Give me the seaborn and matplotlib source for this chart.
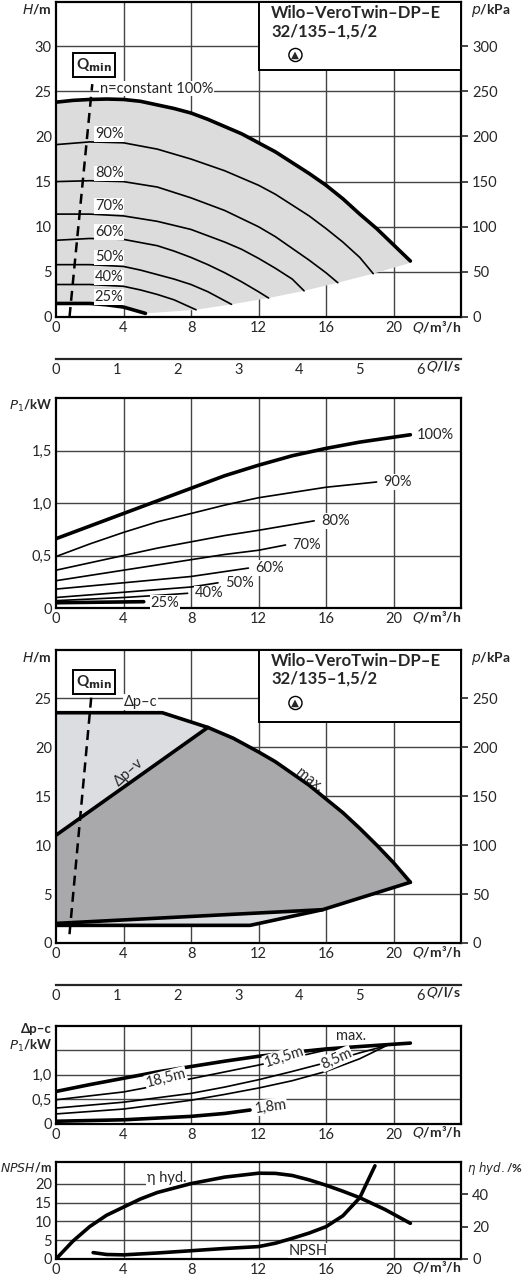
import matplotlib
matplotlib.use("Agg")
import matplotlib.pyplot as plt
import seaborn as sns
import numpy as np

sns.set_style("white")
plt.rcParams['font.family'] = ['Lato', 'DejaVu Sans']

# ---------------- data ----------------
q_ticks = [0, 4, 8, 12, 16, 20]
qls_ticks = [0, 1, 2, 3, 4, 5, 6]

# Panel 1: H(Q) at speed levels
h_speeds = ["100%", "90%", "80%", "70%", "60%", "50%", "40%", "25%"]
h_q = {
    "100%": [0, 1, 2, 3, 4, 5, 6, 7, 8, 9, 10, 11, 12, 13, 14, 15, 16, 17, 18, 19, 20, 21],
    "90%": [0, 2, 4, 6, 8, 10, 12, 13, 14, 15, 16, 17, 18, 18.8],
    "80%": [0, 2, 4, 6, 8, 10, 11, 12, 13, 14, 15, 16, 16.7],
    "70%": [0, 2, 4, 6, 8, 9, 10, 11, 12, 13, 14, 14.7],
    "60%": [0, 2, 4, 6, 7, 8, 9, 10, 11, 12, 12.6],
    "50%": [0, 2, 4, 5, 6, 7, 8, 9, 10.4],
    "40%": [0, 2, 4, 5, 6, 7, 8.3],
    "25%": [0, 2, 3, 4, 5.3],
}
h_h = {
    "100%": [23.8, 24.0, 24.1, 24.15, 24.1, 23.9, 23.5, 23.1, 22.6, 21.9, 21.1, 20.3, 19.3, 18.3, 17.1, 15.9, 14.6, 13.1, 11.4, 9.8, 8.0, 6.2],
    "90%": [19.1, 19.4, 19.3, 18.6, 17.5, 16.2, 14.6, 13.6, 12.4, 11.2, 9.8, 8.3, 6.6, 4.8],
    "80%": [15.0, 15.1, 15.0, 14.4, 13.2, 11.8, 10.9, 10.0, 8.9, 7.6, 6.3, 4.9, 3.8],
    "70%": [11.4, 11.4, 11.2, 10.6, 9.7, 9.0, 8.3, 7.5, 6.5, 5.4, 4.2, 2.9],
    "60%": [8.5, 8.7, 8.6, 7.9, 7.3, 6.6, 5.8, 4.9, 3.9, 2.8, 2.1],
    "50%": [5.8, 5.8, 5.6, 5.2, 4.7, 4.2, 3.6, 2.8, 1.4],
    "40%": [3.6, 3.6, 3.4, 3.0, 2.5, 1.9, 0.8],
    "25%": [1.5, 1.5, 1.35, 1.1, 0.4],
}
h_lbl_y = {"100%": 25.3, "90%": 20.3, "80%": 15.9, "70%": 12.3, "60%": 9.4, "50%": 6.6, "40%": 4.4, "25%": 2.2}
lower_bound_q = [21, 18.8, 16.7, 14.7, 12.6, 10.4, 8.3, 5.3]
lower_bound_h = [6.0, 4.8, 3.8, 2.9, 2.1, 1.4, 0.8, 0.4]
qmin_q = [0.8, 2.15]
qmin_h = [0.0, 25.8]

# Panel 2: P1(Q)
p_q = {
    "100%": [0, 2, 4, 6, 8, 10, 12, 14, 16, 18, 21],
    "90%": [0, 2, 4, 6, 8, 10, 12, 14, 16, 19],
    "80%": [0, 2, 4, 6, 8, 10, 12, 15.3],
    "70%": [0, 2, 4, 6, 8, 10, 12, 13.6],
    "60%": [0, 2, 4, 6, 8, 11.4],
    "50%": [0, 2, 4, 6, 8, 9.6],
    "40%": [0, 2, 4, 6, 7.8],
    "25%": [0, 2.5, 5.2],
}
p_p = {
    "100%": [0.66, 0.78, 0.90, 1.02, 1.14, 1.26, 1.36, 1.45, 1.52, 1.58, 1.65],
    "90%": [0.49, 0.61, 0.72, 0.82, 0.90, 0.98, 1.05, 1.10, 1.15, 1.20],
    "80%": [0.36, 0.43, 0.50, 0.57, 0.63, 0.69, 0.74, 0.83],
    "70%": [0.26, 0.31, 0.36, 0.41, 0.46, 0.51, 0.55, 0.60],
    "60%": [0.18, 0.21, 0.24, 0.27, 0.30, 0.38],
    "50%": [0.10, 0.125, 0.15, 0.175, 0.20, 0.24],
    "40%": [0.07, 0.085, 0.10, 0.12, 0.14],
    "25%": [0.05, 0.055, 0.06],
}
p_lbl = {"100%": (21.4, 1.65), "90%": (19.4, 1.2), "80%": (15.7, 0.83), "70%": (14.0, 0.6),
         "60%": (11.8, 0.38), "50%": (10.0, 0.24), "40%": (8.2, 0.14), "25%": (5.6, 0.05)}

# Panel 3: control modes
max_q = [0, 6.3, 9.0, 10.5, 12, 13, 14, 15, 16, 17, 18, 19, 20, 21]
max_h = [23.5, 23.5, 22.0, 20.9, 19.5, 18.5, 17.3, 16.1, 14.7, 13.3, 11.7, 10.0, 8.2, 6.2]
dpv_q = [0, 9.0]
dpv_h = [11.0, 22.0]
low1_q = [0, 15.8, 21]
low1_h = [2.0, 3.4, 6.2]
low2_q = [0, 11.5, 15.8]
low2_h = [1.8, 1.8, 3.4]
qmin2_q = [0.8, 2.1]
qmin2_h = [0.9, 25.3]

# Panel 4: P1 for Δp-c set points
c_names = ["max.", "18,5m", "13,5m", "8,5m", "1,8m"]
c_q = {
    "max.": [0, 2, 4, 6, 8, 10, 12, 14, 16, 18, 21],
    "18,5m": [0, 4, 6, 8, 10, 12, 14, 16.3],
    "13,5m": [0, 4, 8, 10, 12, 14, 16, 18, 19.6],
    "8,5m": [0, 4, 8, 10, 12, 14, 16, 18, 19.6],
    "1,8m": [0, 4, 8, 10, 11.5],
}
c_p = {
    "max.": [0.66, 0.80, 0.93, 1.06, 1.17, 1.28, 1.38, 1.46, 1.53, 1.58, 1.65],
    "18,5m": [0.49, 0.65, 0.78, 0.92, 1.06, 1.20, 1.35, 1.53],
    "13,5m": [0.32, 0.44, 0.62, 0.75, 0.90, 1.07, 1.25, 1.45, 1.60],
    "8,5m": [0.20, 0.30, 0.48, 0.60, 0.73, 0.88, 1.07, 1.33, 1.60],
    "1,8m": [0.05, 0.08, 0.15, 0.21, 0.28],
}

# Panel 5: NPSH and efficiency
npsh_q = [2.2, 3, 4, 6, 8, 10, 12, 13, 14, 15, 16, 17, 18, 18.9]
npsh_v = [1.7, 1.2, 1.1, 1.6, 2.2, 2.8, 3.3, 4.2, 5.5, 6.9, 8.6, 11.5, 16.3, 24.8]
eta_q = [0, 1, 2, 3, 4, 5, 6, 8, 10, 12, 13, 14, 15, 16, 17, 18, 19.5, 21]
eta_v = [0, 11, 20, 27, 32, 37, 41, 46.5, 50.5, 52.9, 52.8, 51.5, 48.8, 45.5, 41.8, 37.8, 30.5, 22]

# ---------------- layout ----------------
fig = plt.figure(figsize=(5.25, 12.8), dpi=100)
L, W = 56 / 525, 405 / 525
def rect(top, bot):
    return [L, 1 - bot / 1280, W, (bot - top) / 1280]

FS = 10.5
LFS = 10
GRID = dict(color="#444444", lw=1.0, zorder=1)

def style(ax, ylim, yticks, ylabels, right=None):
    ax.set_xlim(0, 24)
    ax.set_ylim(*ylim)
    ax.set_xticks(q_ticks)
    ax.set_xticklabels([str(t) for t in q_ticks], fontsize=FS)
    ax.set_yticks(yticks)
    ax.set_yticklabels(ylabels, fontsize=FS)
    ax.tick_params(axis="both", length=0, pad=3)
    for t in q_ticks[1:]:
        ax.axvline(t, **GRID)
    for t in yticks[1:]:
        ax.axhline(t, **GRID)
    for s in ax.spines.values():
        s.set_linewidth(1.6)
        s.set_color("black")
    ax.text(1.0, -0.005, r"$\mathbf{\mathit{Q}}$/m³/h", transform=ax.transAxes, ha="right", va="top",
            fontsize=LFS, fontweight="bold")
    if right is not None:
        ax2 = ax.twinx()
        ax2.set_ylim(ylim[0] * right[0], ylim[1] * right[0])
        ax2.set_yticks(right[1])
        ax2.set_yticklabels([str(v) for v in right[1]], fontsize=FS)
        ax2.tick_params(axis="y", length=5, width=1.2, pad=3, direction="out")
        for s in ax2.spines.values():
            s.set_visible(False)
        return ax2

def curve(ax, x, y, lw=1.2, ls="-"):
    sns.lineplot(x=x, y=y, ax=ax, color="black", lw=lw, ls=ls, estimator=None, sort=False, zorder=4)

def qls_axis(y):
    ax = fig.add_axes([L, 1 - y / 1280, W, 0.0001])
    ax.set_xlim(0, 24 / 3.6)
    for s in ["left", "right", "top"]:
        ax.spines[s].set_visible(False)
    ax.spines["bottom"].set_linewidth(1.6)
    ax.set_yticks([])
    ax.set_xticks(qls_ticks)
    ax.set_xticklabels([str(t) for t in qls_ticks], fontsize=FS)
    ax.tick_params(axis="x", direction="in", length=5, width=1.2, pad=3)
    ax.text(1.0, -0.5, r"$\mathbf{\mathit{Q}}$/l/s", transform=ax.transAxes, ha="right", va="top",
            fontsize=LFS, fontweight="bold")

def title_box(ax, top_px, bot_px, axtop, axbot):
    x0 = (259 - 56) / 405
    h = (axbot - axtop)
    y0 = 1 - (bot_px - axtop) / h
    ax.add_patch(plt.Rectangle((x0, y0), 1 - x0, 1 - y0, transform=ax.transAxes, fc="white",
                               ec="black", lw=1.4, zorder=6))
    ax.text(x0 + 0.03, 0.99, "Wilo–VeroTwin–DP–E\n32/135–1,5/2", transform=ax.transAxes, ha="left", va="top",
            fontsize=12, fontweight="bold", zorder=7, linespacing=1.15)
    ax.text(x0 + 0.09, 1 - (top_px + 53 - axtop) / h, "▲", transform=ax.transAxes, ha="center", va="center",
            fontsize=7.5, zorder=7, family=["DejaVu Sans"],
            bbox=dict(boxstyle="circle,pad=0.15", fc="white", ec="black", lw=1))

def qmin_box(ax, q, h):
    ax.text(q, h, r"Q$_{\mathbf{min}}$", ha="center", va="center", fontsize=11, fontweight="bold", zorder=7,
            bbox=dict(boxstyle="square,pad=0.2", fc="white", ec="black", lw=1.4))

def ylab(ax, txt, y=1.0, fs=LFS):
    ax.text(-0.01, y, txt, transform=ax.transAxes, ha="right", va="top", fontsize=fs, fontweight="bold")

def rlab(ax, txt, fs=LFS):
    ax.text(1.025, 1.0, txt, transform=ax.transAxes, ha="left", va="top", fontsize=fs, fontweight="bold")

WB = dict(fc="white", ec="none", pad=0.5)

# ---- Panel 1 ----
ax1 = fig.add_axes(rect(2, 317))
ylim1 = (0, 34.9)
style(ax1, ylim1, [0, 5, 10, 15, 20, 25, 30], ["0", "5", "10", "15", "20", "25", "30"],
      right=(10, [0, 50, 100, 150, 200, 250, 300]))
poly_q = h_q["100%"] + lower_bound_q + h_q["25%"][::-1]
poly_h = h_h["100%"] + lower_bound_h + h_h["25%"][::-1]
ax1.fill(poly_q, poly_h, color="#dcdcdc", lw=0, zorder=2)
for s in h_speeds:
    lw = 2.6 if s in ("100%", "25%") else 1.2
    curve(ax1, h_q[s], h_h[s], lw=lw)
for s in h_speeds[1:]:
    ax1.text(2.3, h_lbl_y[s], s, fontsize=FS, ha="left", va="center", zorder=5, bbox=WB)
ax1.text(2.6, 25.3, "n=constant 100%", fontsize=FS, ha="left", va="center", zorder=5, bbox=WB)
curve(ax1, qmin_q, qmin_h, lw=1.8, ls=(0, (4, 2.5)))
qmin_box(ax1, 2.25, 27.9)
title_box(ax1, 2, 70, 2, 317)
ylab(ax1, r"$\mathbf{\mathit{H}}$/m")
rlab(ax1, r"$\mathbf{\mathit{p}}$/kPa")
qls_axis(359)

# ---- Panel 2 ----
ax2 = fig.add_axes(rect(398, 608))
style(ax2, (0, 2.0), [0, 0.5, 1.0, 1.5], ["0", "0,5", "1,0", "1,5"])
for s in h_speeds:
    lw = 2.6 if s in ("100%", "25%") else 1.2
    curve(ax2, p_q[s], p_p[s], lw=lw)
    ax2.text(p_lbl[s][0], p_lbl[s][1], s, fontsize=FS, ha="left", va="center", zorder=5, bbox=WB)
ylab(ax2, r"$\mathbf{\mathit{P}}_{\mathbf{\mathit{1}}}$/kW", fs=9.5)

# ---- Panel 3 ----
ax3 = fig.add_axes(rect(650, 943))
ylim3 = (0, 29.9)
style(ax3, ylim3, [0, 5, 10, 15, 20, 25], ["0", "5", "10", "15", "20", "25"],
      right=(10, [0, 50, 100, 150, 200, 250]))
light_q = low2_q + low1_q[2:] + max_q[::-1]
light_h = low2_h + low1_h[2:] + max_h[::-1]
ax3.fill(light_q, light_h, color="#dcdde0", lw=0, zorder=2)
i9 = max_q.index(9.0)
dark_q = dpv_q + max_q[i9 + 1:] + low1_q[::-1][1:]
dark_h = dpv_h + max_h[i9 + 1:] + low1_h[::-1][1:]
ax3.fill(dark_q, dark_h, color="#a9a9ab", lw=0, zorder=2)
curve(ax3, max_q, max_h, lw=2.6)
curve(ax3, dpv_q, dpv_h, lw=2.6)
curve(ax3, low1_q, low1_h, lw=2.6)
curve(ax3, low2_q, low2_h, lw=2.6)
curve(ax3, qmin2_q, qmin2_h, lw=1.8, ls=(0, (4, 2.5)))
qmin_box(ax3, 2.25, 26.6)
ax3.text(4.0, 24.6, "Δp–c", fontsize=FS, ha="left", va="center", zorder=5, bbox=WB)
ax3.text(4.3, 17.4, "Δp–v", fontsize=FS, ha="center", va="center", rotation=42, zorder=5)
ax3.text(15.0, 16.6, "max.", fontsize=FS, ha="center", va="center", rotation=-38, zorder=5)
title_box(ax3, 650, 722, 650, 943)
ylab(ax3, r"$\mathbf{\mathit{H}}$/m")
rlab(ax3, r"$\mathbf{\mathit{p}}$/kPa")
qls_axis(985)

# ---- Panel 4 ----
ax4 = fig.add_axes(rect(1026, 1123.7))
style(ax4, (0, 2.0), [0, 0.5, 1.0, 1.5], ["0", "0,5", "1,0", ""])
for n in c_names:
    lw = 2.6 if n in ("max.", "1,8m") else 1.2
    curve(ax4, c_q[n], c_p[n], lw=lw)
ax4.text(17.5, 1.8, "max.", fontsize=FS, ha="center", va="center", zorder=5)
ax4.text(6.5, 0.93, "18,5m", fontsize=FS, ha="center", va="center", rotation=14, zorder=5, bbox=WB)
ax4.text(13.5, 1.36, "13,5m", fontsize=FS, ha="center", va="center", rotation=18, zorder=5, bbox=WB)
ax4.text(16.6, 1.33, "8,5m", fontsize=FS, ha="center", va="center", rotation=24, zorder=5, bbox=WB)
ax4.text(11.7, 0.35, "1,8m", fontsize=FS, ha="left", va="center", rotation=8, zorder=5, bbox=WB)
ax4.text(-0.01, 1.03, "Δp–c\n" + r"$\mathbf{\mathit{P}}_{\mathbf{\mathit{1}}}$/kW", transform=ax4.transAxes,
         ha="right", va="top", fontsize=9.5, fontweight="bold", multialignment="right")

# ---- Panel 5 ----
ax5 = fig.add_axes(rect(1161.7, 1259))
style(ax5, (0, 25.9), [0, 5, 10, 15, 20], ["0", "5", "10", "15", "20"])
ax5b = ax5.twinx()
ax5b.set_ylim(0, 60)
ax5b.set_yticks([0, 20, 40])
ax5b.set_yticklabels(["0", "20", "40"], fontsize=FS)
ax5b.tick_params(axis="y", length=5, width=1.2, pad=3, direction="out")
for s in ax5b.spines.values():
    s.set_visible(False)
curve(ax5, npsh_q, npsh_v, lw=2.6)
sns.lineplot(x=eta_q, y=eta_v, ax=ax5b, color="black", lw=2.6, estimator=None, sort=False)
ax5.text(5.4, 21.5, "η hyd.", fontsize=FS, ha="left", va="center", zorder=5, bbox=WB)
ax5.text(13.8, 2.2, "NPSH", fontsize=FS, ha="left", va="center", zorder=5, bbox=WB)
ylab(ax5, r"$\mathbf{\mathit{NPSH}}$/m", y=1.02, fs=9)
ax5.text(1.015, 1.02, r"$\mathbf{\mathit{\eta\ hyd.}}$/%", transform=ax5.transAxes, ha="left", va="top",
         fontsize=8.5, fontweight="bold")

fig.savefig("out.png", dpi=100)
